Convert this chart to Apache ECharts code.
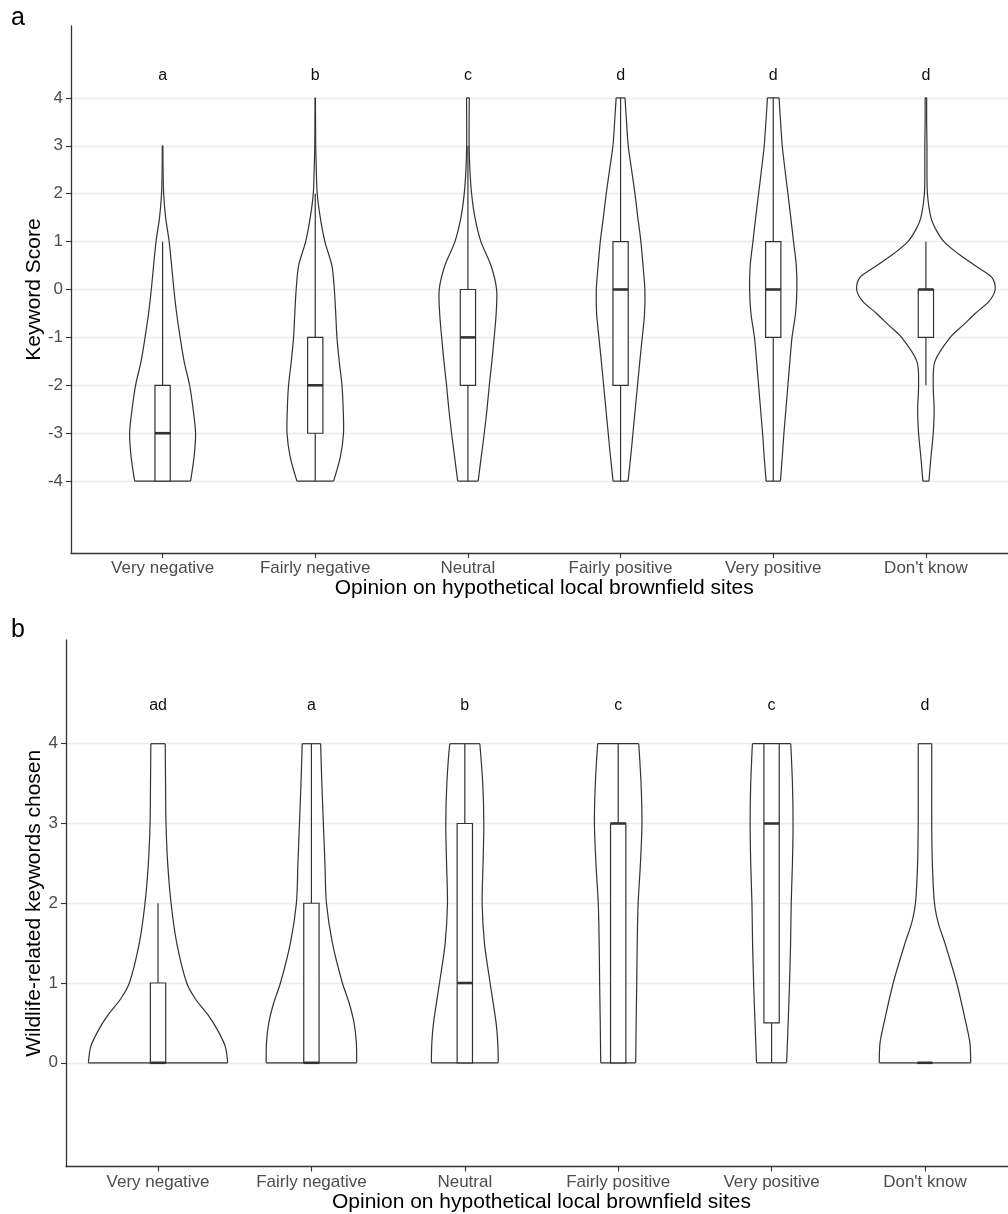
<!DOCTYPE html>
<html>
<head>
<meta charset="utf-8">
<script src="https://cdn.jsdelivr.net/npm/echarts@6/dist/echarts.min.js"></script>
<style>
  html, body { margin: 0; padding: 0; background: #ffffff; }
  #chart { width: 1008px; height: 1214px; }
</style>
</head>
<body>
<div id="chart"></div>
<script>
// Opinion groups along the horizontal axis
const categories = ['Very negative', 'Fairly negative', 'Neutral', 'Fairly positive', 'Very positive', "Don't know"];
const xTitle = 'Opinion on hypothetical local brownfield sites';

// ---- Panel a: keyword score ----
const scoreTitle = 'Keyword Score';
const scoreTicks = [-4, -3, -2, -1, 0, 1, 2, 3, 4];
const scoreLetters = ['a', 'b', 'c', 'd', 'd', 'd'];
// [lower whisker, Q1, median, Q3, upper whisker]
const scoreBoxes = [
  [-4, -4, -3, -2, 1],
  [-4, -3, -2, -1, 2],
  [-4, -2, -1, 0, 3],
  [-4, -2, 0, 1, 4],
  [-4, -1, 0, 1, 4],
  [-2, -1, 0, 0, 1]
];
// violin outlines: score levels and density half-width (in category units)
const scoreViolinLevels = [
  [-4, -3.5, -3, -2.5, -2, -1.5, -1, -0.5, 0, 0.5, 1, 1.5, 2, 2.5, 3],
  [-4, -3.5, -3, -2.5, -2, -1.5, -1, -0.5, 0, 0.5, 1, 1.5, 2, 2.5, 3, 3.5, 4],
  [-4, -3.5, -3, -2.5, -2, -1.5, -1, -0.5, 0, 0.5, 1, 1.5, 2, 2.5, 3, 3.5, 4],
  [-4, -3.5, -3, -2.5, -2, -1.5, -1, -0.5, 0, 0.5, 1, 1.5, 2, 2.5, 3, 3.5, 4],
  [-4, -3.5, -3, -2.5, -2, -1.5, -1, -0.5, 0, 0.5, 1, 1.5, 2, 2.5, 3, 3.5, 4],
  [-4, -3.5, -3, -2.5, -2, -1.5, -1, -0.75, -0.5, -0.25, 0, 0.25, 0.5, 0.75, 1, 1.25, 1.5, 2, 2.5, 3, 3.5, 4]
];
const scoreViolinWidths = [
  [0.183, 0.206, 0.216, 0.200, 0.177, 0.141, 0.115, 0.092, 0.074, 0.059, 0.043, 0.020, 0.007, 0.003, 0.002],
  [0.120, 0.164, 0.185, 0.183, 0.175, 0.157, 0.142, 0.134, 0.125, 0.109, 0.063, 0.033, 0.013, 0.007, 0.003, 0.002, 0.001],
  [0.067, 0.087, 0.107, 0.125, 0.140, 0.157, 0.172, 0.185, 0.188, 0.151, 0.085, 0.046, 0.024, 0.013, 0.008, 0.008, 0.009],
  [0.049, 0.066, 0.081, 0.096, 0.111, 0.126, 0.142, 0.157, 0.159, 0.147, 0.133, 0.113, 0.094, 0.072, 0.050, 0.039, 0.029],
  [0.047, 0.059, 0.070, 0.083, 0.096, 0.109, 0.123, 0.146, 0.155, 0.151, 0.133, 0.115, 0.096, 0.077, 0.059, 0.048, 0.038],
  [0.020, 0.033, 0.048, 0.054, 0.048, 0.059, 0.159, 0.242, 0.323, 0.413, 0.454, 0.433, 0.321, 0.210, 0.118, 0.066, 0.033, 0.010, 0.007, 0.007, 0.005, 0.005]
];

// ---- Panel b: wildlife-related keywords chosen ----
const wildlifeTitle = 'Wildlife-related keywords chosen';
const wildlifeTicks = [0, 1, 2, 3, 4];
const wildlifeLetters = ['ad', 'a', 'b', 'c', 'c', 'd'];
const wildlifeBoxes = [
  [0, 0, 0, 1, 2],
  [0, 0, 0, 2, 4],
  [0, 0, 1, 3, 4],
  [0, 0, 3, 3, 4],
  [0, 0.5, 3, 4, 4],
  [0, 0, 0, 0, 0]
];
const wildlifeViolinLevels = [
  [0, 0.2, 0.4, 0.6, 0.8, 1, 1.5, 2, 2.5, 3, 3.5, 4],
  [0, 0.25, 0.5, 0.75, 1, 1.5, 2, 2.5, 3, 3.5, 4],
  [0, 0.25, 0.5, 1, 1.5, 2, 2.5, 3, 3.5, 4],
  [0, 0.5, 1, 1.5, 2, 2.5, 3, 3.5, 4],
  [0, 0.5, 1, 1.5, 2, 2.5, 3, 3.5, 4],
  [0, 0.25, 0.5, 1, 1.5, 1.75, 2, 2.5, 3, 3.5, 4]
];
const wildlifeViolinWidths = [
  [0.454, 0.439, 0.391, 0.326, 0.244, 0.187, 0.122, 0.085, 0.063, 0.052, 0.049, 0.047],
  [0.295, 0.293, 0.278, 0.246, 0.202, 0.137, 0.098, 0.088, 0.078, 0.068, 0.060],
  [0.218, 0.215, 0.204, 0.165, 0.128, 0.113, 0.119, 0.124, 0.117, 0.098],
  [0.114, 0.117, 0.121, 0.124, 0.130, 0.145, 0.155, 0.149, 0.134],
  [0.098, 0.108, 0.117, 0.124, 0.128, 0.136, 0.140, 0.136, 0.125],
  [0.298, 0.293, 0.267, 0.207, 0.130, 0.087, 0.062, 0.048, 0.044, 0.044, 0.044]
];

const LETTER_LEVEL = 4.5;
const BOX_HALF = 0.05;
const INK = '#333333';
const FONT = '"Liberation Sans", Arial, Helvetica, sans-serif';

// Grid rectangles for the two panels
const GRID_A = { left: 71, top: 26, width: 946.5, height: 527 };
const GRID_B = { left: 66, top: 640, width: 951, height: 526.5 };

function makeRenderer(levels, widths, boxes, letters) {
  return function (params, api) {
    const i = params.dataIndex;
    const xc = api.value(0);
    const ys = levels[i];
    const ws = widths[i];
    const left = ys.map((y, k) => api.coord([xc - ws[k], y]));
    const right = ys.map((y, k) => api.coord([xc + ws[k], y]));
    const n = ys.length - 1;
    const line = { stroke: INK, lineWidth: 1.2, fill: 'none' };
    const seg = (a, b, style) => ({
      type: 'line',
      shape: { x1: a[0], y1: a[1], x2: b[0], y2: b[1] },
      style: style || line
    });
    const children = [
      { type: 'polyline', shape: { points: left, smooth: 0.3 }, style: line },
      { type: 'polyline', shape: { points: right, smooth: 0.3 }, style: line },
      seg(left[0], right[0]),
      seg(left[n], right[n])
    ];

    const b = boxes[i];
    const c = (x, y) => api.coord([x, y]);
    // whiskers
    if (b[0] < b[1]) children.push(seg(c(xc, b[0]), c(xc, b[1])));
    if (b[4] > b[3]) children.push(seg(c(xc, b[3]), c(xc, b[4])));
    // box
    const tl = c(xc - BOX_HALF, b[3]);
    const br = c(xc + BOX_HALF, b[1]);
    if (br[1] - tl[1] > 0.5) {
      children.push({
        type: 'rect',
        shape: { x: tl[0], y: tl[1], width: br[0] - tl[0], height: br[1] - tl[1] },
        style: { stroke: INK, lineWidth: 1.2, fill: '#ffffff' }
      });
    }
    // median
    children.push(seg(c(xc - BOX_HALF, b[2]), c(xc + BOX_HALF, b[2]), { stroke: INK, lineWidth: 2.6 }));
    // group letter
    const lp = c(xc, LETTER_LEVEL);
    children.push({
      type: 'text',
      x: lp[0], y: lp[1] + 1.5,
      style: { text: letters[i], fill: '#111111', fontSize: 16, fontFamily: FONT, align: 'center', verticalAlign: 'middle' }
    });
    return { type: 'group', children };
  };
}

function xAxisFor(gridIndex) {
  const ticks = categories.map((_, k) => k + 1);
  return {
    gridIndex, type: 'value', min: 0.4, max: 6.6,
    axisLine: { show: true, onZero: false, lineStyle: { color: INK, width: 1.3 } },
    axisTick: { show: true, length: 5, customValues: ticks, lineStyle: { color: INK, width: 1.1 } },
    axisLabel: {
      customValues: ticks, margin: 7, color: '#4d4d4d', fontSize: 17, fontFamily: FONT,
      formatter: v => categories[Math.round(v) - 1]
    },
    splitLine: { show: false },
    name: xTitle, nameLocation: 'middle', nameGap: 24,
    nameTextStyle: { color: '#000000', fontSize: 21, fontFamily: FONT }
  };
}

function yAxisFor(gridIndex, min, max, ticks) {
  return {
    gridIndex, type: 'value', min, max,
    axisLine: { show: true, onZero: false, lineStyle: { color: INK, width: 1.3 } },
    axisTick: { show: true, length: 5, customValues: ticks, lineStyle: { color: INK, width: 1.1 } },
    axisLabel: { customValues: ticks, margin: 8, color: '#4d4d4d', fontSize: 17, fontFamily: FONT },
    splitLine: { show: true, lineStyle: { color: '#ebebeb', width: 1.4 } }
  };
}

// vertical axis title, centred on the panel's plotting area
function yTitle(text, grid) {
  return {
    type: 'text', x: 34.5, y: grid.top + grid.height / 2, rotation: Math.PI / 2,
    style: { text, fill: '#000000', fontSize: 21, fontFamily: FONT, align: 'center', verticalAlign: 'middle' }
  };
}

const chart = echarts.init(document.getElementById('chart'), null, { renderer: 'canvas' });
chart.setOption({
  animation: false,
  backgroundColor: '#ffffff',
  grid: [
    Object.assign({ outerBoundsMode: 'none', containLabel: false }, GRID_A),
    Object.assign({ outerBoundsMode: 'none', containLabel: false }, GRID_B)
  ],
  xAxis: [xAxisFor(0), xAxisFor(1)],
  yAxis: [
    yAxisFor(0, -5.5, 5.5, scoreTicks),
    yAxisFor(1, -1.3, 5.3, wildlifeTicks)
  ],
  series: [
    {
      type: 'custom', xAxisIndex: 0, yAxisIndex: 0, clip: false,
      renderItem: makeRenderer(scoreViolinLevels, scoreViolinWidths, scoreBoxes, scoreLetters),
      data: categories.map((_, k) => [k + 1])
    },
    {
      type: 'custom', xAxisIndex: 1, yAxisIndex: 1, clip: false,
      renderItem: makeRenderer(wildlifeViolinLevels, wildlifeViolinWidths, wildlifeBoxes, wildlifeLetters),
      data: categories.map((_, k) => [k + 1])
    }
  ],
  graphic: [
    yTitle(scoreTitle, GRID_A),
    yTitle(wildlifeTitle, GRID_B),
    { type: 'text', x: 11, y: 18, style: { text: 'a', fill: '#000000', fontSize: 25, fontFamily: FONT, verticalAlign: 'middle' } },
    { type: 'text', x: 11, y: 630, style: { text: 'b', fill: '#000000', fontSize: 25, fontFamily: FONT, verticalAlign: 'middle' } }
  ]
});
</script>
</body>
</html>
